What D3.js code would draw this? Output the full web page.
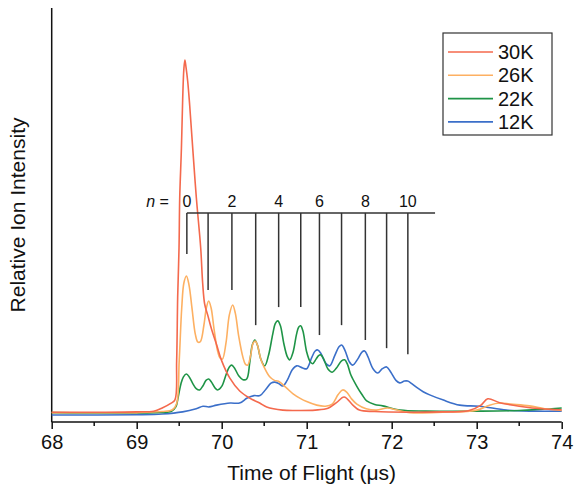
<!DOCTYPE html>
<html><head><meta charset="utf-8">
<script src="https://cdn.jsdelivr.net/npm/d3@7"></script>
<style>body{margin:0;background:#fff}svg{display:block}text{font-family:"Liberation Sans",Arial,sans-serif;fill:#111}</style>
</head><body><svg id="c" width="574" height="489"></svg>
<script>
// ---- data (time in µs, relative intensity) ----
const seriesNames = ["30K","26K","22K","12K"];
const seriesColors = ["#f4694d","#fdb062","#1f9447","#3b6fc9"];
const xTicks = [68,69,70,71,72,73,74];
const k30 = [[68,0.005],[68.6,0.005],[69.0,0.006],[69.2,0.008],[69.3,0.017],[69.4,0.03],[69.45,0.04],[69.47,0.15],[69.482,0.33],[69.498,0.47],[69.506,0.61],[69.526,0.75],[69.541,0.89],[69.555,0.975],[69.567,1.0],[69.58,0.98],[69.6,0.94],[69.624,0.87],[69.659,0.751],[69.702,0.61],[69.753,0.469],[69.776,0.37],[69.8,0.31],[69.835,0.28],[69.88,0.24],[69.941,0.195],[70.0,0.15],[70.094,0.102],[70.212,0.065],[70.329,0.045],[70.447,0.031],[70.529,0.02],[70.718,0.011],[70.9,0.010],[71.1,0.011],[71.25,0.016],[71.35,0.032],[71.44,0.048],[71.54,0.026],[71.62,0.011],[71.8,0.007],[72.2,0.005],[72.6,0.006],[72.9,0.009],[73.05,0.025],[73.13,0.043],[73.27,0.032],[73.5,0.022],[73.8,0.014],[74.0,0.012]];
const k26 = [[68,0.004],[69.0,0.004],[69.3,0.007],[69.42,0.012],[69.47,0.03],[69.5,0.15],[69.53,0.3],[69.555,0.37],[69.585,0.39],[69.615,0.365],[69.65,0.3],[69.69,0.225],[69.72,0.203],[69.75,0.205],[69.79,0.25],[69.82,0.3],[69.847,0.319],[69.875,0.3],[69.91,0.24],[69.95,0.18],[69.98,0.158],[70.008,0.155],[70.05,0.2],[70.09,0.28],[70.129,0.308],[70.16,0.285],[70.2,0.22],[70.25,0.16],[70.28,0.14],[70.306,0.138],[70.34,0.165],[70.37,0.2],[70.395,0.206],[70.42,0.195],[70.46,0.155],[70.5,0.132],[70.565,0.105],[70.62,0.095],[70.66,0.093],[70.7,0.087],[70.765,0.073],[70.84,0.057],[70.918,0.045],[71.0,0.035],[71.118,0.025],[71.22,0.022],[71.3,0.028],[71.37,0.055],[71.424,0.068],[71.47,0.062],[71.53,0.042],[71.59,0.028],[71.7,0.015],[71.82,0.011],[71.95,0.017],[72.05,0.012],[72.21,0.004],[72.6,0.005],[73.0,0.011],[73.15,0.025],[73.27,0.031],[73.4,0.028],[73.62,0.023],[73.8,0.015],[74.0,0.01]];
const k22 = [[68,0.004],[69.2,0.004],[69.41,0.008],[69.46,0.02],[69.49,0.05],[69.52,0.085],[69.55,0.105],[69.585,0.113],[69.62,0.104],[69.66,0.086],[69.7,0.072],[69.74,0.068],[69.78,0.08],[69.815,0.095],[69.847,0.099],[69.88,0.09],[69.92,0.074],[69.953,0.068],[70.0,0.078],[70.05,0.11],[70.09,0.133],[70.118,0.138],[70.15,0.13],[70.2,0.108],[70.25,0.097],[70.294,0.099],[70.33,0.145],[70.36,0.195],[70.39,0.209],[70.42,0.195],[70.46,0.155],[70.506,0.136],[70.55,0.165],[70.6,0.225],[70.63,0.255],[70.659,0.263],[70.69,0.25],[70.73,0.2],[70.77,0.163],[70.8,0.153],[70.84,0.175],[70.88,0.225],[70.905,0.245],[70.929,0.249],[70.955,0.235],[71.0,0.175],[71.04,0.148],[71.07,0.142],[71.11,0.155],[71.14,0.165],[71.165,0.167],[71.2,0.155],[71.25,0.127],[71.3,0.118],[71.35,0.13],[71.41,0.15],[71.447,0.153],[71.48,0.14],[71.52,0.11],[71.588,0.079],[71.65,0.055],[71.706,0.037],[71.8,0.027],[71.894,0.023],[72.1,0.011],[72.4,0.008],[73.0,0.008],[73.5,0.01],[74.0,0.017]];
const k12 = [[68,-0.003],[69.0,-0.002],[69.3,0.0],[69.54,0.006],[69.7,0.015],[69.78,0.022],[69.85,0.02],[69.94,0.025],[70.1,0.031],[70.21,0.031],[70.3,0.045],[70.38,0.052],[70.45,0.052],[70.52,0.07],[70.58,0.087],[70.624,0.09],[70.67,0.086],[70.718,0.079],[70.77,0.095],[70.83,0.125],[70.882,0.136],[70.953,0.13],[71.0,0.128],[71.06,0.16],[71.1,0.178],[71.13,0.181],[71.17,0.17],[71.22,0.145],[71.27,0.136],[71.33,0.165],[71.38,0.19],[71.412,0.195],[71.45,0.18],[71.5,0.148],[71.541,0.138],[71.6,0.155],[71.65,0.175],[71.682,0.178],[71.72,0.162],[71.78,0.128],[71.835,0.116],[71.89,0.128],[71.941,0.133],[71.99,0.118],[72.05,0.095],[72.094,0.088],[72.15,0.093],[72.188,0.093],[72.24,0.085],[72.294,0.075],[72.37,0.063],[72.447,0.054],[72.6,0.04],[72.8,0.025],[73.035,0.022],[73.35,0.011],[73.66,0.008],[74,0.008]];
const seriesData = [k30,k26,k22,k12];
// progression annotation
const nTimes = [69.59,69.84,70.12,70.40,70.67,70.93,71.15,71.41,71.69,71.94,72.19];
const nEnds  = [0.452,0.350,0.350,0.251,0.302,0.302,0.223,0.251,0.209,0.186,0.169];
const nLabels = ["0","","2","","4","","6","","8","","10"];
const nBarLevel = 0.568, nBarEnd = 72.51;

// ---- drawing ----
const svg = d3.select("#c");
const x = d3.scaleLinear().domain([68,74]).range([51.7,561.7]);
const y = d3.scaleLinear().domain([0,1]).range([414,60]);

// axes
const axisY = 422;
const gx = svg.append("g").attr("transform",`translate(0,${axisY})`)
  .call(d3.axisBottom(x).tickValues(xTicks).tickSize(7).tickFormat(d3.format("d")));
gx.select(".domain").attr("stroke","#111").attr("stroke-width",1.5).attr("d",`M${x(68)},0H${x(74)}`);
gx.selectAll(".tick line").attr("stroke","#111").attr("stroke-width",1.5);
gx.selectAll(".tick text").attr("y",13).style("font-size","20px").style("font-family","Liberation Sans, Arial, sans-serif").attr("fill","#111");
const minor = d3.range(68.5,74,1);
svg.append("g").attr("transform",`translate(0,${axisY})`).selectAll("line").data(minor).join("line")
  .attr("x1",d=>x(d)).attr("x2",d=>x(d)).attr("y1",0).attr("y2",4).attr("stroke","#111").attr("stroke-width",1.5);
svg.append("line").attr("x1",x(68)).attr("x2",x(68)).attr("y1",8).attr("y2",axisY).attr("stroke","#111").attr("stroke-width",1.5);

svg.append("text").attr("x",(x(68)+x(74))/2+5).attr("y",480).attr("text-anchor","middle").style("font-size","21px").text("Time of Flight (μs)");
svg.append("text").attr("transform","translate(25,215) rotate(-90)").attr("text-anchor","middle").style("font-size","21px").text("Relative Ion Intensity");

// series
const line = d3.line().x(d=>x(d[0])).y(d=>y(d[1])).curve(d3.curveCatmullRom.alpha(0.5));
const order = [3,2,1,0];
svg.append("g").selectAll("path").data(order).join("path")
  .attr("d",i=>line(seriesData[i])).attr("fill","none")
  .attr("stroke",i=>seriesColors[i]).attr("stroke-width",1.6).attr("stroke-linejoin","round");

// n annotation
const ann = svg.append("g").attr("stroke","#333").attr("stroke-width",1.5);
ann.append("line").attr("x1",x(nTimes[0])).attr("x2",x(nBarEnd)).attr("y1",y(nBarLevel)).attr("y2",y(nBarLevel));
ann.selectAll("line.v").data(nTimes).join("line").attr("class","v")
  .attr("x1",d=>x(d)).attr("x2",d=>x(d)).attr("y1",y(nBarLevel)).attr("y2",(d,i)=>y(nEnds[i]));
svg.append("g").selectAll("text").data(nTimes).join("text")
  .attr("x",d=>x(d)).attr("y",y(nBarLevel)-6).attr("text-anchor","middle").style("font-size","16px")
  .text((d,i)=>nLabels[i]);
const nt = svg.append("text").attr("x",x(nTimes[0])-18).attr("y",y(nBarLevel)-6).attr("text-anchor","end").style("font-size","16px");
nt.append("tspan").style("font-style","italic").text("n");
nt.append("tspan").text(" =");

// legend
const lg = svg.append("g");
lg.append("rect").attr("x",443).attr("y",33).attr("width",109).attr("height",102).attr("fill","#fff").attr("stroke","#333").attr("stroke-width",1.2);
seriesNames.forEach((n,i)=>{
  const yy = 52 + i*23.3;
  lg.append("line").attr("x1",448).attr("x2",493).attr("y1",yy).attr("y2",yy).attr("stroke",seriesColors[i]).attr("stroke-width",1.6);
  lg.append("text").attr("x",498).attr("y",yy+7).style("font-size","20px").text(n);
});
</script></body></html>
